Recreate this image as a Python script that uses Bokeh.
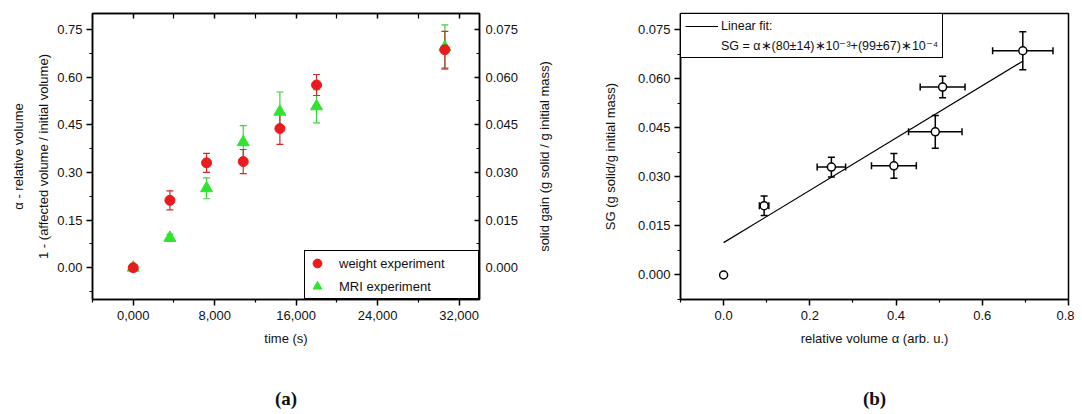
from bokeh.plotting import figure
from bokeh.layouts import row
from bokeh.models import (ColumnDataSource, Range1d, LinearAxis, FixedTicker, Whisker,
                          TeeHead, Legend, LegendItem)
from bokeh.embed import file_html
from bokeh.resources import INLINE

# ---------------- data ----------------
time_s = [0, 3600, 7200, 10800, 14400, 18000, 30600]
# weight experiment: solid gain (g solid / g initial mass)
sg = [0.0, 0.0212, 0.0330, 0.0334, 0.0438, 0.0575, 0.0686]
sg_err = [0.0, 0.0030, 0.0030, 0.0038, 0.0050, 0.0033, 0.0058]
# MRI experiment: relative volume alpha
alpha = [0.0, 0.094, 0.250, 0.395, 0.491, 0.508, 0.694]
alpha_err = [0.0, 0.011, 0.033, 0.052, 0.062, 0.052, 0.070]
# linear fit SG = alpha*slope + intercept
fit_slope = 0.080
fit_intercept = 0.0099
fit_alpha = [0.0, 0.695]

time_ticks = [0, 8000, 16000, 24000, 32000]
time_tick_labels = ["0,000", "8,000", "16,000", "24,000", "32,000"]
alpha_ticks = [0.0, 0.15, 0.30, 0.45, 0.60, 0.75]
alpha_tick_labels = ["0.00", "0.15", "0.30", "0.45", "0.60", "0.75"]
sg_ticks = [0.0, 0.015, 0.030, 0.045, 0.060, 0.075]
sg_tick_labels = ["0.000", "0.015", "0.030", "0.045", "0.060", "0.075"]
relvol_ticks = [0.0, 0.2, 0.4, 0.6, 0.8]
relvol_tick_labels = ["0.0", "0.2", "0.4", "0.6", "0.8"]

FONT = "Liberation Sans"
RED = "#ea1a1e"
RED_BAR = "#cc2b2b"
GREEN = "#2fe42f"
GREEN_BAR = "#3ad43a"


def minors(ticks):
    step = ticks[1] - ticks[0]
    return [t - step / 2 for t in ticks]


def ticker(ticks):
    return FixedTicker(ticks=ticks, minor_ticks=minors(ticks))


def style_axis(ax):
    ax.axis_line_color = "black"
    ax.axis_line_width = 1.5
    ax.major_tick_line_color = "black"
    ax.major_tick_line_width = 1.5
    ax.minor_tick_line_color = "black"
    ax.minor_tick_line_width = 1.2
    ax.major_tick_out = 6
    ax.major_tick_in = 0
    ax.minor_tick_out = 3
    ax.minor_tick_in = 0
    ax.major_label_text_font = FONT
    ax.major_label_text_font_size = "13px"
    ax.major_label_text_color = "#111111"
    ax.axis_label_text_font = FONT
    ax.axis_label_text_font_size = "13px"
    ax.axis_label_text_font_style = "normal"
    ax.axis_label_text_color = "#111111"


def label_only_axis(text, standoff):
    """An axis that only carries a label (no line, ticks or tick labels)."""
    ax = LinearAxis(ticker=FixedTicker(ticks=[]))
    style_axis(ax)
    ax.axis_line_color = None
    ax.major_tick_line_color = None
    ax.minor_tick_line_color = None
    ax.major_label_text_color = None
    ax.major_label_standoff = 0
    ax.major_tick_out = 0
    ax.minor_tick_out = 0
    ax.axis_label = text
    ax.axis_label_standoff = standoff
    return ax


def panel_tag(text):
    ax = label_only_axis(text, 39)
    ax.axis_label_text_font = "Liberation Serif"
    ax.axis_label_text_font_style = "bold"
    ax.axis_label_text_font_size = "19px"
    return ax


# ---------------- panel (a) ----------------
p1 = figure(frame_width=387, frame_height=286, x_range=Range1d(-4000, 34000),
            y_range=Range1d(-0.1, 0.8), output_backend="svg", toolbar_location=None,
            min_border_left=92, min_border_right=48, min_border_top=13, min_border_bottom=0,
            title=None)
p1.extra_y_ranges = {"sg": Range1d(-0.01, 0.08)}
p1.grid.visible = False
p1.outline_line_color = "black"
p1.outline_line_width = 1.5
p1.outline_line_alpha = 1

xax = p1.below[0]
yax = p1.left[0]
style_axis(xax)
style_axis(yax)
xax.ticker = ticker(time_ticks)
xax.major_label_overrides = dict(zip(time_ticks, time_tick_labels))
xax.axis_label = "time (s)"
xax.axis_label_standoff = 8
xax.major_label_standoff = 5
yax.ticker = ticker(alpha_ticks)
yax.major_label_overrides = dict(zip(alpha_ticks, alpha_tick_labels))
yax.axis_label = "1 - (affected volume / initial volume)"
yax.axis_label_standoff = 3
yax.major_label_standoff = 4

# outer left label (first line of the two-line label)
p1.add_layout(label_only_axis("α - relative volume", 8), "left")

# right axis (solid gain); its title is carried by the next panel's outer left axis
rax = LinearAxis(y_range_name="sg", ticker=ticker(sg_ticks))
style_axis(rax)
rax.major_label_overrides = dict(zip(sg_ticks, sg_tick_labels))
rax.major_tick_in = 5
rax.major_tick_out = 0
rax.minor_tick_in = 3
rax.minor_tick_out = 0
rax.major_label_standoff = 6
p1.add_layout(rax, "right")

# top mirror ticks (labels not drawn)
tax = LinearAxis(ticker=ticker(time_ticks))
style_axis(tax)
tax.major_tick_in = 5
tax.major_tick_out = 0
tax.minor_tick_in = 5
tax.minor_tick_out = 0
tax.major_label_text_color = None
tax.major_label_text_font_size = "10px"
tax.major_label_standoff = 0
p1.add_layout(tax, "above")

src_m = ColumnDataSource(dict(t=time_s, a=alpha))
idx_m = [i for i, e in enumerate(alpha_err) if e > 0]
src_me = ColumnDataSource(dict(t=[time_s[i] for i in idx_m],
                               up=[alpha[i] + alpha_err[i] for i in idx_m],
                               lo=[alpha[i] - alpha_err[i] for i in idx_m]))
w_m = Whisker(base="t", upper="up", lower="lo", source=src_me, line_color=GREEN_BAR,
              line_width=1.2, level="underlay",
              upper_head=TeeHead(size=7, line_color=GREEN_BAR, line_width=1.2),
              lower_head=TeeHead(size=7, line_color=GREEN_BAR, line_width=1.2))
p1.add_layout(w_m)

src_w = ColumnDataSource(dict(t=time_s, s=sg))
idx_w = [i for i, e in enumerate(sg_err) if e > 0]
src_we = ColumnDataSource(dict(t=[time_s[i] for i in idx_w],
                               up=[sg[i] + sg_err[i] for i in idx_w],
                               lo=[sg[i] - sg_err[i] for i in idx_w]))
w_w = Whisker(base="t", upper="up", lower="lo", source=src_we, line_color=RED_BAR,
              line_width=1.2, level="underlay", y_range_name="sg",
              upper_head=TeeHead(size=7, line_color=RED_BAR, line_width=1.2),
              lower_head=TeeHead(size=7, line_color=RED_BAR, line_width=1.2))
p1.add_layout(w_w)

r_m = p1.scatter("t", "a", source=src_m, marker="triangle", size=12,
                 fill_color=GREEN, line_color=GREEN)
r_w = p1.scatter("t", "s", source=src_w, marker="circle", size=10, y_range_name="sg",
                 fill_color=RED, line_color=RED)

leg1 = Legend(items=[LegendItem(label="weight experiment", renderers=[r_w]),
                     LegendItem(label="MRI experiment", renderers=[r_m])],
              location="bottom_right", margin=0, padding=1, spacing=1,
              glyph_width=22, glyph_height=22, label_standoff=11, label_width=138,
              border_line_color="black", border_line_width=1.5, border_line_alpha=1,
              label_text_font=FONT, label_text_font_size="13px",
              label_text_color="#111111", background_fill_alpha=1)
p1.add_layout(leg1)
p1.add_layout(panel_tag("(a)"), "below")

# ---------------- panel (b) ----------------
p2 = figure(frame_width=388, frame_height=286, x_range=Range1d(-0.1, 0.8),
            y_range=Range1d(-0.0075, 0.08), output_backend="svg", toolbar_location=None,
            min_border_left=153, min_border_right=6, min_border_top=13, min_border_bottom=0,
            title=None)
p2.grid.visible = False
p2.outline_line_color = "black"
p2.outline_line_width = 1.5
p2.outline_line_alpha = 1

xax2 = p2.below[0]
yax_b = p2.left[0]
style_axis(xax2)
style_axis(yax_b)
xax2.ticker = ticker(relvol_ticks)
xax2.major_label_overrides = dict(zip(relvol_ticks, relvol_tick_labels))
xax2.axis_label = "relative volume α (arb. u.)"
xax2.axis_label_standoff = 8
xax2.major_label_standoff = 5
xax2.minor_tick_out = 3
yax_b.ticker = ticker(sg_ticks)
yax_b.major_label_overrides = dict(zip(sg_ticks, sg_tick_labels))
yax_b.axis_label = "SG (g solid/g initial mass)"
yax_b.axis_label_standoff = 17
yax_b.major_label_standoff = 4

# title of panel (a)'s right axis, reading bottom-to-top
p2.add_layout(label_only_axis("solid gain (g solid / g initial mass)", 48), "left")

fit_sg = [fit_slope * a + fit_intercept for a in fit_alpha]
r_fit = p2.line(fit_alpha, fit_sg, line_color="black", line_width=1.2)
r_blank = p2.line(x=[], y=[], line_alpha=0)

idx_b = [i for i in range(len(alpha)) if sg_err[i] > 0]
src_ye = ColumnDataSource(dict(a=[alpha[i] for i in idx_b],
                               up=[sg[i] + sg_err[i] for i in idx_b],
                               lo=[sg[i] - sg_err[i] for i in idx_b]))
src_xe = ColumnDataSource(dict(s=[sg[i] for i in idx_b],
                               up=[alpha[i] + alpha_err[i] for i in idx_b],
                               lo=[alpha[i] - alpha_err[i] for i in idx_b]))
for src, dim in ((src_ye, "height"), (src_xe, "width")):
    base = "a" if dim == "height" else "s"
    wk = Whisker(base=base, upper="up", lower="lo", source=src, dimension=dim,
                 line_color="black", line_width=1.5, level="underlay",
                 upper_head=TeeHead(size=7, line_color="black", line_width=1.5),
                 lower_head=TeeHead(size=7, line_color="black", line_width=1.5))
    p2.add_layout(wk)

p2.scatter(alpha, sg, marker="circle", size=8, fill_color="white",
           line_color="black", line_width=1.5)

leg2 = Legend(items=[LegendItem(label="Linear fit:", renderers=[r_fit]),
                     LegendItem(label="SG = α∗(80±14)∗10⁻³+(99±67)∗10⁻⁴",
                                renderers=[r_blank])],
              location="top_left", margin=0, padding=4, spacing=3,
              glyph_width=33, glyph_height=16, label_standoff=3, label_width=214,
              border_line_color="black", border_line_width=1.2, border_line_alpha=1,
              label_text_font=FONT, label_text_font_size="12.5px",
              label_text_color="#111111", background_fill_alpha=1)
p2.add_layout(leg2)
p2.add_layout(panel_tag("(b)"), "below")

layout = row(p1, p2)
open("out.html", "w").write(file_html(layout, INLINE))
